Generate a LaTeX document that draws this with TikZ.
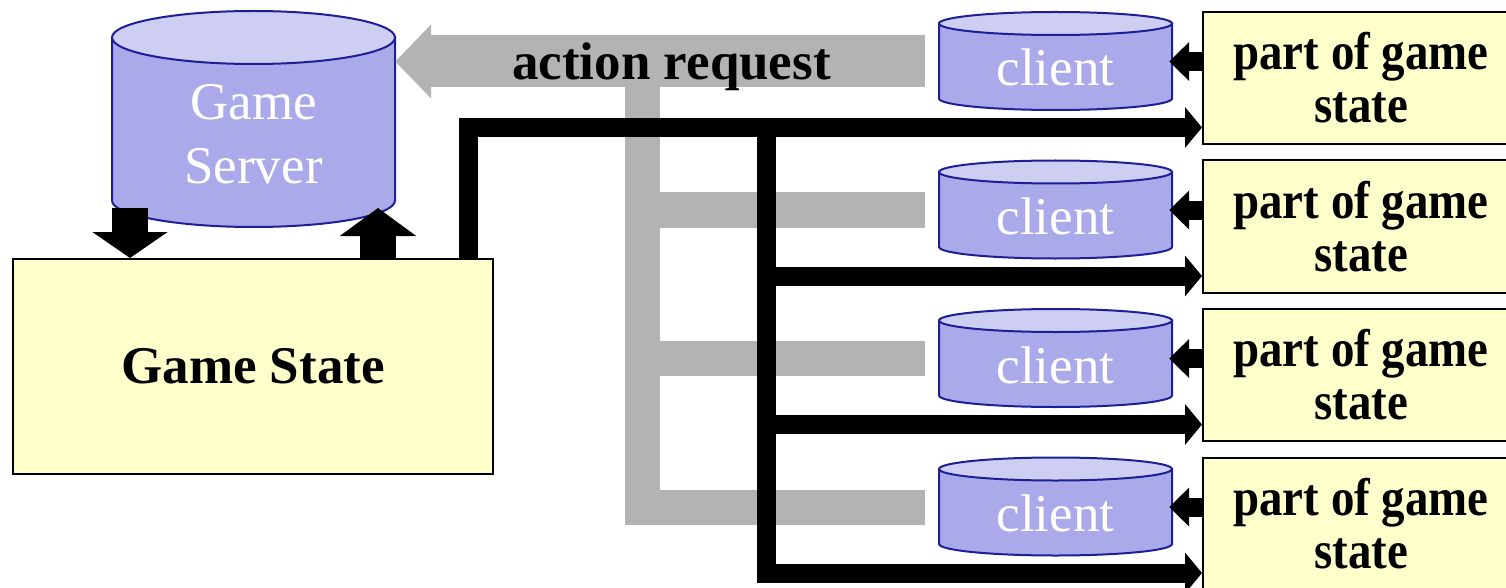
\documentclass[tikz,border=0pt]{standalone}
\usepackage{fontspec}
\setmainfont{Liberation Serif}
\usepackage{graphicx}
\usetikzlibrary{arrows.meta,calc}
\definecolor{cylbody}{RGB}{170,170,235}
\definecolor{cyltop}{RGB}{206,206,242}
\definecolor{cylline}{RGB}{30,30,150}
\definecolor{boxfill}{RGB}{255,255,204}
\definecolor{reqgray}{RGB}{179,179,179}
\newcommand\drawcyl[5]{%
  \filldraw[fill=cylbody,draw=cylline,line width=2pt] (#1-#4,#2) -- (#1-#4,#3) arc[start angle=180,end angle=0,x radius=#4,y radius=#5] -- (#1+#4,#2) -- cycle;
  \filldraw[fill=cyltop,draw=cylline,line width=2pt] (#1,#2) ellipse[x radius=#4,y radius=#5];
}
\newcommand\pg[1]{\scalebox{0.885}[1]{#1}}
\begin{document}
\begin{tikzpicture}[x=1pt,y=-1pt,line join=miter,
  big/.style={font=\fontsize{53}{53}\selectfont},
  pbox/.style={draw=black,line width=2pt,fill=boxfill,minimum width=316pt,minimum height=132pt,inner sep=0pt,align=center,font=\bfseries\fontsize{53}{53}\selectfont},
  gsbox/.style={draw=black,line width=2pt,fill=boxfill,minimum width=480pt,minimum height=215pt,inner sep=0pt,font=\bfseries\fontsize{53}{53}\selectfont},
  clienttext/.style={text=white,minimum width=233pt,minimum height=98pt,inner sep=0pt,text height=49pt,text depth=0pt,font=\fontsize{53}{53}\selectfont},
  srvtext/.style={text=white,minimum width=283pt,inner sep=0pt,align=center,font=\fontsize{53}{64}\selectfont},
  graypipe/.style={draw=reqgray,line width=35pt},
  blkpipe/.style={draw=black,line width=19pt},
  blkhead/.style={-{Triangle[length=17pt,width=40pt]}},
  backhead/.style={-{Triangle[length=20pt,width=38pt]}},
  fatarrow/.style={draw=black,line width=36pt}
]
\useasboundingbox (0,0) rectangle (1506,588);

% cylinders
\drawcyl{253.5}{37.5}{200.5}{141.5}{26.5}
\drawcyl{1055.5}{23.5}{98.5}{116.5}{11.5}
\drawcyl{1055.5}{172}{247}{116.5}{11.5}
\drawcyl{1055.5}{320.5}{395.5}{116.5}{11.5}
\drawcyl{1055.5}{469}{544}{116.5}{11.5}

% nodes
\node[srvtext] (srv) at (253.5,134) {Game\\Server};
\node[clienttext] (c1) at (1055.5,61.5) {client};
\node[clienttext] (c2) at (1055.5,210) {client};
\node[clienttext] (c3) at (1055.5,358.5) {client};
\node[clienttext] (c4) at (1055.5,507) {client};
\node[pbox] (p1) at (1361,78) {\pg{part of game}\\\pg{state}};
\node[pbox] (p2) at (1361,226.5) {\pg{part of game}\\\pg{state}};
\node[pbox] (p3) at (1361,375) {\pg{part of game}\\\pg{state}};
\node[pbox] (p4) at (1361,523.5) {\pg{part of game}\\\pg{state}};
\node[gsbox] (gs) at (253,366.5) {Game State};

% gray action-request network
\coordinate (gtrunk) at (642.5,80);
\draw[draw=reqgray,line width=52pt,-{Triangle[length=36pt,width=72pt]}] ($(c1.west)+(-14,0)$) -- (srv.east |- c1.west);
\draw[graypipe] (gtrunk) |- ($(c4.west)+(-14,0)$);
\draw[graypipe] (gtrunk |- c2.west) -- ($(c2.west)+(-14,0)$);
\draw[graypipe] (gtrunk |- c3.west) -- ($(c3.west)+(-14,0)$);
\node[big,font=\bfseries\fontsize{53}{53}\selectfont,anchor=base,inner sep=0pt] (ar) at (671.5,80) {action request};

% server <-> game state
\coordinate (sd) at (130,208);
\coordinate (su) at (378,208);
\draw[fatarrow,-{Triangle[length=26pt,width=74pt]}] (sd) -- (sd |- gs.north);
\draw[fatarrow,-{Triangle[length=28pt,width=75pt]}] (su |- gs.north) -- (su);

% black state distribution network
\coordinate (gsx) at (468.5,0);
\coordinate (bx) at (766.5,0);
\coordinate (a1) at ($(p1.west)+(0,49.5)$);
\coordinate (a2) at ($(p2.west)+(0,49.5)$);
\coordinate (a3) at ($(p3.west)+(0,49.5)$);
\coordinate (a4) at ($(p4.west)+(0,49.5)$);
\draw[blkpipe,blkhead] (gs.north -| gsx) |- (a1);
\draw[blkpipe,blkhead] (bx |- a1) |- (a4);
\draw[blkpipe,blkhead] (bx |- a2) -- (a2);
\draw[blkpipe,blkhead] (bx |- a3) -- (a3);

% part of state -> client
\draw[blkpipe,backhead] ($(p1.west)+(0,-16.5)$) -- ($(c1.east)+(-3,0)$);
\draw[blkpipe,backhead] ($(p2.west)+(0,-16.5)$) -- ($(c2.east)+(-3,0)$);
\draw[blkpipe,backhead] ($(p3.west)+(0,-16.5)$) -- ($(c3.east)+(-3,0)$);
\draw[blkpipe,backhead] ($(p4.west)+(0,-16.5)$) -- ($(c4.east)+(-3,0)$);
\end{tikzpicture}
\end{document}
